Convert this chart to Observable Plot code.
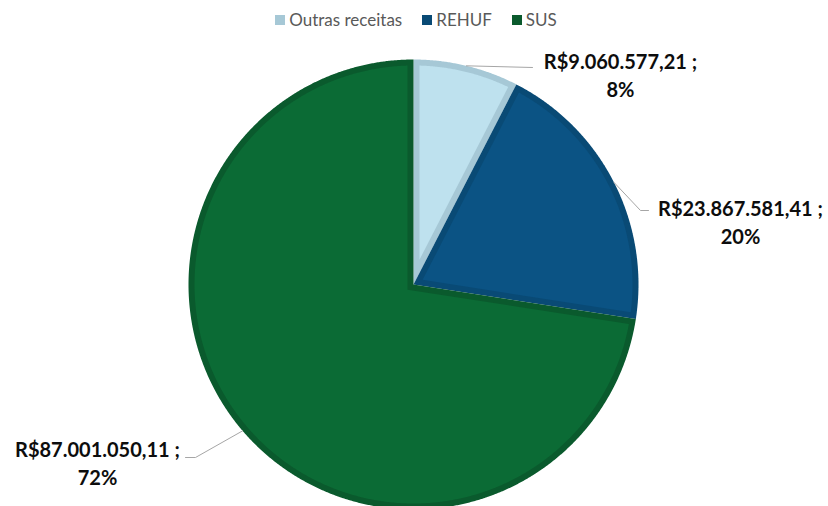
<!DOCTYPE html>
<html><head><meta charset="utf-8">
<script src="https://cdn.jsdelivr.net/npm/d3@7"></script>
<script src="https://cdn.jsdelivr.net/npm/@observablehq/plot@0.6"></script>
<style>
body{margin:0;background:#fff;font-family:Lato,"Open Sans",sans-serif;}
#legend{display:flex;justify-content:center;gap:20px;height:30px;padding-top:10px;box-sizing:border-box;font-size:17px;color:#595959;line-height:18px;padding-left:4px}
#legend span.item{display:flex;align-items:center;white-space:nowrap}
#legend span.sw{display:inline-block;width:10px;height:10px;margin-right:4px}
#chart svg{display:block}
</style></head><body>
<div id="legend"></div>
<div id="chart"></div>
<script>
// ---- data ----
const categories = ["Outras receitas", "REHUF", "SUS"];
const values = [9060577.21, 23867581.41, 87001050.11];
const valueLabels = ["R$9.060.577,21", "R$23.867.581,41", "R$87.001.050,11"];
const percentLabels = ["8%", "20%", "72%"];

// ---- styles / layout ----
const fillColors = ["#BEE1EE", "#0B5384", "#0B6B35"];
const edgeColors = ["#A6C8D6", "#094A75", "#0A5A2D"];
const W = 828, H = 476;
const cx = 413, cy = 254; // pie centre inside svg
const R = 225, EDGE = 6;
// leader/label layout, pixel offsets relative to centre (y up)
const layout = [
  {leader: [[119, 217]], label: [207, 210]},
  {leader: [[227, 74], [235, 74]], label: [327, 63.5]},
  {leader: [[-218, -173], [-228, -173]], label: [-316, -178]}
];

// legend
const legend = document.getElementById("legend");
categories.forEach((c, i) => {
  const it = document.createElement("span"); it.className = "item";
  const sw = document.createElement("span"); sw.className = "sw"; sw.style.background = edgeColors[i];
  it.appendChild(sw); it.appendChild(document.createTextNode(c));
  legend.appendChild(it);
});

const arcs = d3.pie().sort(null).startAngle(0).endAngle(2 * Math.PI)(values);

function wedge(a0, a1, r, d, key, color) {
  const pts = [];
  const th = a1 - a0;
  const mid = (a0 + a1) / 2;
  const off = d > 0 ? d / Math.sin(th / 2) : 0;
  pts.push({x: off * Math.sin(mid), y: off * Math.cos(mid), key, color});
  const da = d > 0 ? Math.asin(d / r) : 0;
  const s = a0 + da, e = a1 - da;
  const n = Math.max(2, Math.ceil((e - s) / 0.005));
  for (let k = 0; k <= n; k++) {
    const a = s + (e - s) * k / n;
    pts.push({x: r * Math.sin(a), y: r * Math.cos(a), key, color});
  }
  return pts;
}

const outer = [], inner = [], leaders = [], labels = [];
arcs.forEach((a, i) => {
  outer.push(...wedge(a.startAngle, a.endAngle, R, 0, "o" + i, edgeColors[i]));
  inner.push(...wedge(a.startAngle, a.endAngle, R - EDGE, EDGE, "i" + i, fillColors[i]));
  const mid = (a.startAngle + a.endAngle) / 2;
  leaders.push({x: R * Math.sin(mid), y: R * Math.cos(mid), key: i});
  layout[i].leader.forEach(p => leaders.push({x: p[0], y: p[1], key: i}));
  labels.push({x: layout[i].label[0], y: layout[i].label[1], text: valueLabels[i] + " ;\n" + percentLabels[i]});
});

const chart = Plot.plot({
  width: W, height: H,
  margin: 0,
  x: {domain: [-cx, W - cx], range: [0, W], axis: null},
  y: {domain: [-(H - cy), cy], range: [H, 0], axis: null},
  color: {type: "identity"},
  style: {background: "#fff", overflow: "visible"},
  marks: [
    Plot.line(outer, {x: "x", y: "y", z: "key", fill: "color", stroke: "none", curve: "linear"}),
    Plot.line(inner, {x: "x", y: "y", z: "key", fill: "color", stroke: "none", curve: "linear"}),
    Plot.line(leaders, {x: "x", y: "y", z: "key", stroke: "#A6A6A6", strokeWidth: 1}),
    Plot.text(labels, {x: "x", y: "y", text: "text", fontSize: 20, fontWeight: "bold", fill: "#0D0D0D",
      textAnchor: "middle", lineHeight: 1.4, fontFamily: "Lato"})
  ]
});
document.getElementById("chart").appendChild(chart);
</script>
</body></html>
